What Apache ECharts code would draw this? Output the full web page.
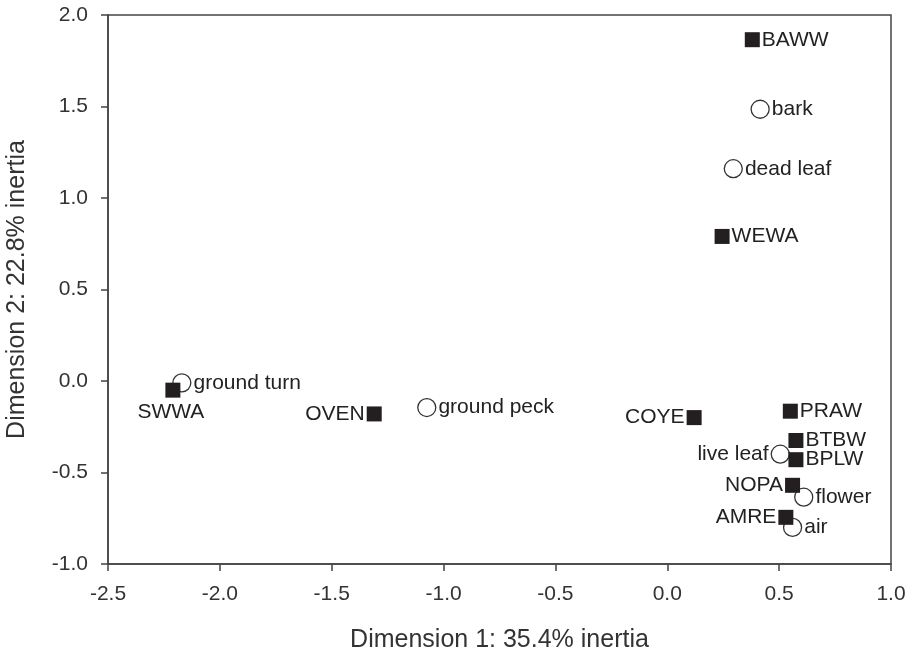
<!DOCTYPE html>
<html>
<head>
<meta charset="utf-8">
<script src="https://cdn.jsdelivr.net/npm/echarts@6/dist/echarts.min.js"></script>
<style>
  html, body { margin: 0; padding: 0; background: #fff; }
  #main { width: 912px; height: 656px; }
</style>
</head>
<body>
<div id="main"></div>
<script>
// species (filled squares)
var speciesNames = ['BAWW', 'WEWA', 'SWWA', 'OVEN', 'COYE', 'PRAW', 'BTBW', 'BPLW', 'NOPA', 'AMRE']
var speciesX = [0.38, 0.245, -2.21, -1.31, 0.12, 0.55, 0.575, 0.575, 0.56, 0.53]
var speciesY = [1.865, 0.79, -0.05, -0.18, -0.2, -0.165, -0.325, -0.43, -0.57, -0.745]

// foraging behaviours (open circles)
var behaviourNames = ['bark', 'dead leaf', 'ground turn', 'ground peck', 'live leaf', 'flower', 'air']
var behaviourX = [0.415, 0.295, -2.17, -1.075, 0.505, 0.61, 0.56]
var behaviourY = [1.485, 1.16, -0.01, -0.145, -0.4, -0.635, -0.8]

var xTicks = [-2.5, 1.0, 0.5]
var yTicks = [-1.0, 2.0, 0.5]

// which side the label sits on
var labelSide = {
  SWWA: 'bottom', OVEN: 'left', COYE: 'left', NOPA: 'left', AMRE: 'left',
  'live leaf': 'left'
}

function toData (names, xs, ys) {
  return names.map(function (n, i) {
    var side = labelSide[n] || 'right'
    var item = { name: n, value: [xs[i], ys[i]], label: { position: side } }
    if (side === 'bottom') item.label.offset = [-2, 2]
    return item
  })
}

var font = 'Liberation Sans, Arial, sans-serif'
var axisCommon = {
  type: 'value',
  nameLocation: 'middle',
  nameTextStyle: { fontFamily: font, fontSize: 25, color: '#333' },
  axisLine: { show: true, onZero: false, lineStyle: { color: '#444', width: 1.5 } },
  axisTick: { show: true, inside: false, length: 7, lineStyle: { color: '#444', width: 1.5 } },
  axisLabel: { fontFamily: font, fontSize: 21, color: '#333', margin: 20, formatter: function (v) { return v.toFixed(1) } },
  splitLine: { show: false }
}

var labelStyle = {
  show: true,
  formatter: '{b}',
  distance: 2,
  fontFamily: font,
  fontSize: 21,
  color: '#222'
}

var chart = echarts.init(document.getElementById('main'))
chart.setOption({
  animation: false,
  grid: {
    left: 108, top: 15, right: 21, bottom: 92,
    outerBoundsMode: 'none',
    containLabel: false,
    show: true, borderColor: '#444', borderWidth: 1.5
  },
  xAxis: Object.assign({}, axisCommon, {
    name: 'Dimension 1: 35.4% inertia',
    nameGap: 64,
    min: xTicks[0], max: xTicks[1], interval: xTicks[2]
  }),
  yAxis: Object.assign({}, axisCommon, {
    name: 'Dimension 2: 22.8% inertia',
    nameGap: 78,
    min: yTicks[0], max: yTicks[1], interval: yTicks[2]
  }),
  series: [
    {
      name: 'behaviour',
      type: 'scatter',
      symbol: 'circle',
      symbolSize: 18,
      itemStyle: { color: '#fff', borderColor: '#333', borderWidth: 1.3, opacity: 1 },
      label: labelStyle,
      data: toData(behaviourNames, behaviourX, behaviourY),
      z: 2
    },
    {
      name: 'species',
      type: 'scatter',
      symbol: 'rect',
      symbolSize: 15,
      itemStyle: { color: '#231f20', opacity: 1 },
      label: labelStyle,
      data: toData(speciesNames, speciesX, speciesY),
      z: 3
    }
  ]
})
</script>
</body>
</html>
